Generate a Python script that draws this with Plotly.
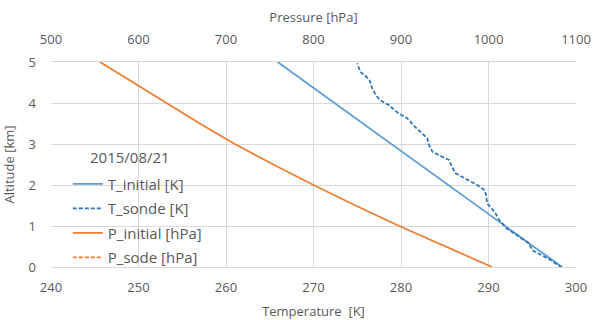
import plotly.graph_objects as go

# Altitude grid (km)
alt_initial = [0, 0.5, 1, 1.5, 2, 2.5, 3, 3.5, 4, 4.5, 5]
T_initial = [298.4, 295.15, 291.9, 288.65, 285.4, 282.15, 278.9, 275.65, 272.4, 269.15, 265.9]
P_initial = [1004, 950, 898, 848, 800, 754, 710, 670, 632, 594, 556]

alt_sonde = [0.0, 0.01, 0.17, 0.33, 0.41, 0.58, 0.76, 0.94, 1.15, 1.31, 1.47, 1.55, 1.78, 1.88,
             2.00, 2.16, 2.29, 2.45, 2.61, 2.69, 2.81, 2.98, 3.14, 3.22, 3.42, 3.63, 3.75,
             3.95, 4.07, 4.20, 4.36, 4.56, 4.67, 4.76, 4.97]
T_sonde = [298.4, 298.2, 297.1, 295.75, 295.0, 294.6, 293.4, 292.1, 291.2, 290.8, 290.2, 289.85, 289.7, 289.5,
           288.7, 287.4, 286.2, 285.8, 285.5, 284.7, 283.6, 283.2, 283.0, 282.6, 281.6, 280.7, 279.7,
           278.6, 277.6, 277.1, 276.7, 276.4, 275.9, 275.35, 275.0]

alt_sode = []
P_sode = []

legend_title = "2015/08/21"
names = ["T_initial [K]", "T_sonde [K]", "P_initial [hPa]", "P_sode [hPa]"]

FONT = "Open Sans"
GRAY = "#595959"
GRID = "#d9d9d9"
BLUE = "#5B9BD5"
DBLUE = "#2E75B6"
ORANGE = "#ED7D31"

fig = go.Figure()
fig.add_trace(go.Scatter(x=T_initial, y=alt_initial, mode="lines", name=names[0], legendgroup="a",
                         line=dict(color=BLUE, width=1.75)))
fig.add_trace(go.Scatter(x=T_sonde, y=alt_sonde, mode="lines", name=names[1], legendgroup="b",
                         line=dict(color=DBLUE, width=1.75, dash="4px,2px")))
fig.add_trace(go.Scatter(x=P_initial, y=alt_initial, mode="lines", name=names[2], xaxis="x2",
                         legendgroup="c", line=dict(color=ORANGE, width=1.75)))
fig.add_trace(go.Scatter(x=P_sode if P_sode else [None], y=alt_sode if alt_sode else [None],
                         mode="lines", name=names[3], xaxis="x2", legendgroup="d",
                         line=dict(color=ORANGE, width=1.75, dash="4px,2px")))

axis_font = dict(family=FONT, size=13, color=GRAY)
leg_font = dict(family=FONT, size=15, color=GRAY)
fig.update_layout(
    width=594, height=320,
    margin=dict(l=51, r=18, t=62, b=53),
    paper_bgcolor="white", plot_bgcolor="white",
    font=dict(family=FONT, size=13, color=GRAY),
    xaxis=dict(range=[240, 300], dtick=10, showgrid=True, gridcolor=GRID, gridwidth=1,
               zeroline=False, showline=True, linecolor=GRID, linewidth=1, automargin=False,
               tickfont=axis_font, ticks="", ticklabelstandoff=8,
               title=dict(text="Temperature  [K]", font=axis_font, standoff=19)),
    xaxis2=dict(range=[500, 1100], dtick=100, overlaying="x", side="top", showgrid=False,
                zeroline=False, showline=True, linecolor=GRID, linewidth=1, automargin=False,
                tickfont=axis_font, ticks="", ticklabelstandoff=12,
                title=dict(text="Pressure [hPa]", font=axis_font, standoff=4)),
    yaxis=dict(range=[0, 5], dtick=1, showgrid=True, gridcolor=GRID, gridwidth=1, automargin=False,
               zeroline=False, showline=False, tickfont=axis_font, ticks="", ticklabelstandoff=14,
               title=dict(text="Altitude [km]", font=axis_font, standoff=13)),
    legend=dict(x=0.032, y=0.485, xanchor="left", yanchor="top",
                bgcolor="rgba(0,0,0,0)", font=leg_font,
                tracegroupgap=2, itemwidth=30),
    showlegend=True,
    annotations=[dict(text=legend_title, xref="paper", yref="paper", x=0.150, y=0.537,
                      xanchor="center", yanchor="middle", showarrow=False,
                      font=leg_font)],
)

fig.write_html("out.html", config={"displayModeBar": False},
               post_script="document.body.style.margin='0';")
